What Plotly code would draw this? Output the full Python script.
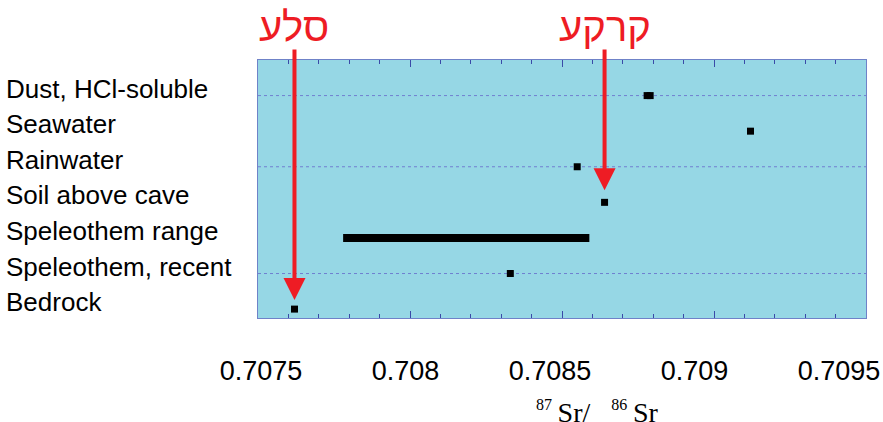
import plotly.graph_objects as go

categories = ["Dust, HCl-soluble", "Seawater", "Rainwater", "Soil above cave",
              "Speleothem range", "Speleothem, recent", "Bedrock"]
cat_pos = [7, 6, 5, 4, 3, 2, 1]

# point measurements (category position, 87Sr/86Sr)
pt_y = [7, 7, 6, 5, 4, 2, 1]
pt_x = [0.70878, 0.70879, 0.70912, 0.70855, 0.70864, 0.70833, 0.70762]

# speleothem range
range_y = [3, 3]
range_x = [0.70778, 0.70859]

grid_y = [7, 5, 2]
x_ticks = [0.7075, 0.708, 0.7085, 0.709, 0.7095]
x_tick_text = ["0.7075", "0.708", "0.7085", "0.709", "0.7095"]

# arrows: label, target x, target y
arrow_labels = ["סלע", "קרקע"]
arrow_x = [0.70762, 0.70864]
arrow_y = [1, 4]

RED = "#ee1c24"
Y_LO, Y_HI = 0.75, 8
PLOT_H = 258
PLOT_W = 608
X_LO, X_HI = 0.70749999, 0.70950001
# tick-label axis: labels in the original sit slightly compressed leftward
LBL_LO, LBL_HI = 0.70748962, 0.7095934

fig = go.Figure()
fig.add_trace(go.Scatter(x=range_x, y=range_y, mode="lines",
                         line=dict(color="black", width=8), hoverinfo="skip",
                         showlegend=False))
fig.add_trace(go.Scatter(x=pt_x, y=pt_y, mode="markers",
                         marker=dict(symbol="square", size=7, color="black"),
                         showlegend=False))
# invisible trace to activate the label axis
fig.add_trace(go.Scatter(x=[x_ticks[0]], y=[Y_LO], xaxis="x2", mode="markers",
                         marker=dict(opacity=0), hoverinfo="skip", showlegend=False))

for gy in grid_y:
    fig.add_shape(type="line", xref="paper", x0=0, x1=1, yref="y", y0=gy, y1=gy,
                  line=dict(color="#6f7fd0", width=1, dash="dot"), layer="below")

for name, p in zip(categories, cat_pos):
    fig.add_annotation(text=name, xref="paper", x=-254 / PLOT_W, xanchor="left",
                       yref="y", y=p, yanchor="middle", yshift=7, showarrow=False,
                       font=dict(family="Liberation Sans, Arial", size=26, color="black"))

standoffs = [9, 12]
for lab, ax_, ay_, so in zip(arrow_labels, arrow_x, arrow_y, standoffs):
    tail = -((Y_HI - ay_) / (Y_HI - Y_LO) * PLOT_H + 12)
    fig.add_annotation(x=ax_, y=ay_, xref="x", yref="y", text="", showarrow=True,
                       ax=0, ay=tail, arrowhead=2, arrowsize=1.1, arrowwidth=4,
                       arrowcolor=RED, standoff=so)
    fig.add_annotation(x=ax_, xref="x", y=1, yref="paper", yshift=33, text=lab,
                       showarrow=False, xanchor="center", yanchor="middle",
                       font=dict(family="Liberation Sans, Arial", size=40, color=RED))

fig.add_annotation(
    text="<sup><span style='font-size:16px'>87</span></sup>\u2009Sr/\u00a0\u00a0\u00a0"
         "<sup><span style='font-size:16px'>86</span></sup>\u2009Sr",
    xref="paper", x=(597 - 258) / PLOT_W, yref="paper", y=-(412 - 318) / PLOT_H,
    xanchor="center", yanchor="middle", showarrow=False,
    font=dict(family="Liberation Serif, Times New Roman", size=28, color="black"))

fig.update_layout(
    width=883, height=422,
    margin=dict(l=258, r=17, t=60, b=104, autoexpand=False),
    paper_bgcolor="white", plot_bgcolor="#96d7e5",
    xaxis=dict(range=[X_LO, X_HI], tickvals=x_ticks, showticklabels=False,
               ticks="inside", ticklen=7, tickcolor="#3a4aa8", tickwidth=1,
               minor=dict(dtick=0.0001, ticks="inside", ticklen=4, tickcolor="#3a4aa8"),
               showgrid=False, zeroline=False, showline=True, linecolor="#6f82c8",
               linewidth=1, mirror="ticks", automargin=False),
    xaxis2=dict(range=[LBL_LO, LBL_HI], overlaying="x", anchor="y", side="bottom",
                tickvals=x_ticks, ticktext=x_tick_text, ticks="", showgrid=False,
                zeroline=False, showline=False, ticklabelstandoff=34,
                ticklabeloverflow="allow", automargin=False,
                tickfont=dict(family="Liberation Sans, Arial", size=27, color="black")),
    yaxis=dict(range=[Y_LO, Y_HI], showticklabels=False, ticks="", showgrid=False,
               zeroline=False, showline=True, linecolor="#6f82c8", linewidth=1,
               mirror=True, automargin=False),
)

fig.write_html("out.html", config={"displayModeBar": False},
               post_script="document.body.style.margin='0';document.body.style.overflow='hidden';")
